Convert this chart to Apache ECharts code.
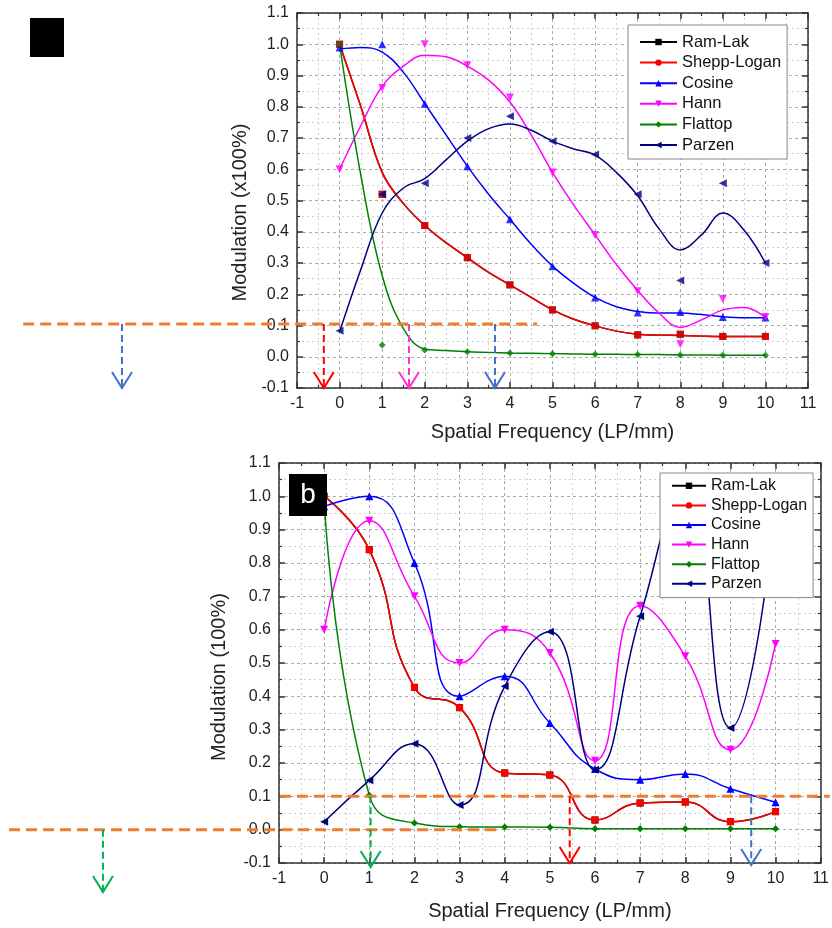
<!DOCTYPE html>
<html>
<head>
<meta charset="utf-8">
<script src="https://cdn.jsdelivr.net/npm/echarts@6/dist/echarts.min.js"></script>
<style>
html, body { margin: 0; background: #fff; }
#chart { width: 832px; height: 928px; }
</style>
</head>
<body>
<div id="chart"></div>
<script>
const names = ['Ram-Lak', 'Shepp-Logan', 'Cosine', 'Hann', 'Flattop', 'Parzen']
const colors = ['#000000', '#ff0000', '#0000ff', '#ff00ff', '#008000', '#000080']
const legendSymbols = ['rect', 'circle', 'triangle', 'triangle', 'diamond', 'triangle']
const pointSymbols = ['rect', 'rect', 'triangle', 'triangle', 'diamond', 'triangle']
const symbolRotations = [0, 0, 0, 180, 0, 90]

const freq = [0, 1, 2, 3, 4, 5, 6, 7, 8, 9, 10]
const freqFine = [0, 0.5, 1, 1.5, 2, 2.5, 3, 3.5, 4, 4.5, 5, 5.5, 6, 6.5, 7, 7.5, 8, 8.5, 9, 9.5, 10]

// panel a: measured points
const aRamLak = [1.0, 0.52, 0.42, 0.317, 0.23, 0.15, 0.099, 0.07, 0.072, 0.065, 0.065]
const aSheppLogan = [1.0, 0.52, 0.42, 0.317, 0.23, 0.15, 0.099, 0.07, 0.072, 0.065, 0.065]
const aCosine = [0.99, 1.0, 0.81, 0.61, 0.44, 0.29, 0.19, 0.142, 0.143, 0.127, 0.126]
const aHann = [0.6, 0.86, 1.0, 0.933, 0.83, 0.59, 0.39, 0.21, 0.04, 0.185, 0.127]
const aFlattop = [1.0, 0.038, 0.022, 0.016, 0.012, 0.01, 0.008, 0.007, 0.006, 0.005, 0.005]
const aParzen = [0.083, 0.52, 0.555, 0.7, 0.77, 0.69, 0.647, 0.52, 0.244, 0.555, 0.3]

// panel a: fitted curves, read every 0.5 LP/mm
const aRamLakFit = [1.0, 0.8, 0.59, 0.49, 0.42, 0.365, 0.317, 0.27, 0.23, 0.19, 0.15, 0.12, 0.099, 0.082, 0.072, 0.069, 0.068, 0.066, 0.065, 0.065, 0.065]
const aSheppLoganFit = [1.0, 0.8, 0.59, 0.49, 0.42, 0.365, 0.317, 0.27, 0.23, 0.19, 0.15, 0.12, 0.099, 0.082, 0.072, 0.069, 0.068, 0.066, 0.065, 0.065, 0.065]
const aCosineFit = [0.985, 0.99, 0.975, 0.91, 0.81, 0.71, 0.61, 0.52, 0.44, 0.36, 0.29, 0.235, 0.19, 0.16, 0.145, 0.14, 0.14, 0.135, 0.128, 0.125, 0.125]
const aHannFit = [0.6, 0.74, 0.865, 0.93, 0.965, 0.96, 0.93, 0.885, 0.815, 0.71, 0.59, 0.485, 0.39, 0.295, 0.212, 0.14, 0.094, 0.118, 0.15, 0.158, 0.126]
const aFlattopFit = [1.0, 0.58, 0.26, 0.09, 0.025, 0.02, 0.016, 0.014, 0.012, 0.011, 0.01, 0.009, 0.008, 0.008, 0.007, 0.007, 0.006, 0.006, 0.005, 0.005, 0.005]
const aParzenFit = [0.08, 0.28, 0.46, 0.54, 0.57, 0.63, 0.69, 0.73, 0.745, 0.725, 0.69, 0.665, 0.645, 0.59, 0.515, 0.41, 0.342, 0.39, 0.46, 0.405, 0.3]

// panel b: measured points (curves go through them)
const bRamLak = [1.0, 0.84, 0.427, 0.366, 0.17, 0.164, 0.029, 0.08, 0.083, 0.024, 0.054]
const bSheppLogan = [1.0, 0.84, 0.427, 0.366, 0.17, 0.164, 0.029, 0.08, 0.083, 0.024, 0.054]
const bCosine = [0.97, 1.0, 0.8, 0.4, 0.46, 0.32, 0.182, 0.15, 0.167, 0.123, 0.082]
const bHann = [0.6, 0.927, 0.7, 0.5, 0.6, 0.53, 0.207, 0.672, 0.52, 0.24, 0.557]
const bFlattop = [1.0, 0.103, 0.02, 0.009, 0.008, 0.007, 0.003, 0.003, 0.003, 0.003, 0.003]
const bParzen = [0.024, 0.148, 0.258, 0.074, 0.43, 0.594, 0.18, 0.64, 1.05, 0.305, 0.95]

const yTicks = [-0.1, 1.1, 0.1]
const xTicks = [-1, 11, 1]

// annotations: threshold levels and arrows, in LP/mm / modulation units
const aThreshold = { from: -7.43, to: 4.64, level: 0.105 }
const aArrows = [
  { f: -5.11, top: 0.105, tip: -0.1, color: '#4472c4' },
  { f: -0.37, top: 0.105, tip: -0.1, color: '#ff0000' },
  { f: 1.63, top: 0.105, tip: -0.1, color: '#ff33cc' },
  { f: 3.65, top: 0.105, tip: -0.1, color: '#4472c4' },
]
const bThresholds = [
  { from: -0.98, to: 11.2, level: 0.1 },
  { from: -6.98, to: 3.88, level: 0.0 },
]
const bArrows = [
  { f: -4.9, top: 0.0, tip: -0.187, color: '#00b050' },
  { f: 1.03, top: 0.1, tip: -0.112, color: '#00b050' },
  { f: 5.44, top: 0.1, tip: -0.1, color: '#ff0000' },
  { f: 9.46, top: 0.1, tip: -0.106, color: '#4472c4' },
]

const font = 'Liberation Sans, Arial, sans-serif'
const frame = { color: '#333', width: 1.5 }

const aPoints = [aRamLak, aSheppLogan, aCosine, aHann, aFlattop, aParzen]
const aFits = [aRamLakFit, aSheppLoganFit, aCosineFit, aHannFit, aFlattopFit, aParzenFit]
const bPoints = [bRamLak, bSheppLogan, bCosine, bHann, bFlattop, bParzen]

function mainX(gridIndex, nameGap) {
  return {
    type: 'value', gridIndex, min: xTicks[0], max: xTicks[1], interval: xTicks[2],
    name: 'Spatial Frequency (LP/mm)', nameLocation: 'middle', nameGap,
    nameTextStyle: { fontSize: 20, color: '#222', fontFamily: font },
    axisLine: { onZero: false, lineStyle: frame },
    axisTick: { inside: true, length: 6, lineStyle: frame },
    minorTick: { show: true, splitNumber: 2, length: 3, lineStyle: { color: '#333', width: 1.2 } },
    axisLabel: { fontSize: 16, color: '#222', fontFamily: font, margin: 8 },
    splitLine: { show: true, lineStyle: { color: '#aaa', type: [3, 3], width: 1 } },
    minorSplitLine: { show: true, lineStyle: { color: '#d0d0d0', type: [2, 3], width: 1 } },
  }
}

function mainY(gridIndex, name, nameGap, shift) {
  return {
    type: 'value', gridIndex, min: yTicks[0], max: yTicks[1], interval: yTicks[2],
    name, nameLocation: 'middle', nameGap,
    nameTextStyle: { fontSize: 20, color: '#222', fontFamily: font, padding: [0, shift, 0, 0] },
    axisLine: { onZero: false, lineStyle: frame },
    axisTick: { inside: true, length: 6, lineStyle: frame },
    minorTick: { show: true, splitNumber: 2, length: 3, lineStyle: { color: '#333', width: 1.2 } },
    axisLabel: { fontSize: 16, color: '#222', fontFamily: font, margin: 8, formatter: (v) => v.toFixed(1) },
    splitLine: { show: true, lineStyle: { color: '#aaa', type: [3, 3], width: 1 } },
    minorSplitLine: { show: true, lineStyle: { color: '#d0d0d0', type: [2, 3], width: 1 } },
  }
}

function mirror(base, gridIndex, position) {
  return {
    type: 'value', gridIndex, position, min: base[0], max: base[1], interval: base[2],
    axisLine: { onZero: false, lineStyle: frame },
    axisTick: { inside: true, length: 6, lineStyle: frame },
    minorTick: { show: true, splitNumber: 2, length: 3, lineStyle: { color: '#333', width: 1.2 } },
    axisLabel: { show: false },
    splitLine: { show: false },
  }
}

function legendFor(left, top, gap, fontSize, lineHeight, itemWidth, padding) {
  return {
    data: names, orient: 'vertical', left, top, itemGap: gap, itemWidth, itemHeight: 8,
    padding, backgroundColor: '#fff', borderColor: '#888', borderWidth: 1, borderRadius: 0,
    textStyle: { fontSize, lineHeight, color: '#111', fontFamily: font },
    selectedMode: false,
  }
}

const series = []
names.forEach((name, i) => {
  series.push({
    name, type: 'line', xAxisIndex: 0, yAxisIndex: 0, smooth: 0.4,
    data: freqFine.map((f, k) => [f, aFits[i][k]]),
    showSymbol: false, symbol: legendSymbols[i], symbolRotate: symbolRotations[i],
    lineStyle: { color: colors[i], width: 1.5 }, itemStyle: { color: colors[i] },
    z: 2 + i * 0.1,
  })
})
names.forEach((name, i) => {
  series.push({
    name: name + ' (a) points', type: 'scatter', xAxisIndex: 0, yAxisIndex: 0,
    data: freq.map((f, k) => [f, aPoints[i][k]]),
    symbol: pointSymbols[i], symbolRotate: symbolRotations[i],
    symbolSize: pointSymbols[i] === 'triangle' ? 8 : 7,
    itemStyle: { color: colors[i] }, z: 3 + i * 0.1,
  })
})
names.forEach((name, i) => {
  series.push({
    name, type: 'line', xAxisIndex: 1, yAxisIndex: 1, smooth: 0.5,
    data: freq.map((f, k) => [f, bPoints[i][k]]),
    showSymbol: true, symbol: pointSymbols[i], symbolRotate: symbolRotations[i],
    symbolSize: pointSymbols[i] === 'triangle' ? 8 : 7,
    lineStyle: { color: colors[i], width: 1.5 }, itemStyle: { color: colors[i] },
    z: 2 + i * 0.1,
  })
})

const chart = echarts.init(document.getElementById('chart'))
chart.setOption({
  backgroundColor: '#fff',
  animation: false,
  grid: [
    { left: 297, top: 13, width: 511, height: 375 },
    { left: 279, top: 463, width: 544, height: 400 },
  ],
  xAxis: [mainX(0, 34), mainX(1, 38), mirror(xTicks, 0, 'top'), mirror(xTicks, 1, 'top')],
  yAxis: [
    mainY(0, 'Modulation (x100%)', 46, 24),
    mainY(1, 'Modulation (100%)', 50, 28),
    mirror(yTicks, 0, 'right'),
    mirror(yTicks, 1, 'right'),
  ],
  legend: [
    legendFor(628, 25, 0.6, 16.5, 20, 37, [7, 6, 4, 11]),
    legendFor(660, 473, 0, 16, 19.6, 34, [3, 6, 4, 11]),
  ],
  series,
})

// annotations drawn on top, positioned through the axes
function px(grid, f, v) {
  return chart.convertToPixel({ xAxisIndex: grid, yAxisIndex: grid }, [f, v])
}
function hLine(grid, t) {
  const a = px(grid, t.from, t.level)
  const b = px(grid, t.to, t.level)
  return { type: 'line', z: 100, shape: { x1: a[0], y1: a[1], x2: b[0], y2: b[1] },
    style: { stroke: '#ed7d31', lineWidth: 3, lineDash: [11, 6] } }
}
function arrow(grid, a) {
  const p = px(grid, a.f, a.top)
  const q = px(grid, a.f, a.tip)
  return [
    { type: 'line', z: 100, shape: { x1: p[0], y1: p[1], x2: q[0], y2: q[1] - 2 },
      style: { stroke: a.color, lineWidth: 2, lineDash: [7, 4] } },
    { type: 'polyline', z: 100, shape: { points: [[q[0] - 10, q[1] - 16], [q[0], q[1]], [q[0] + 10, q[1] - 16]] },
      style: { stroke: a.color, lineWidth: 2, fill: null } },
  ]
}

const elements = [
  { type: 'rect', z: 100, shape: { x: 30, y: 18, width: 34, height: 39 }, style: { fill: '#000' } },
  { type: 'rect', z: 100, shape: { x: 289, y: 474, width: 38, height: 42 }, style: { fill: '#000' } },
  { type: 'text', z: 101, style: { x: 308, y: 495, text: 'b', fill: '#fff', font: '28px ' + font, align: 'center', verticalAlign: 'middle' } },
  hLine(0, aThreshold),
  ...bThresholds.map((t) => hLine(1, t)),
  ...aArrows.flatMap((a) => arrow(0, a)),
  ...bArrows.flatMap((a) => arrow(1, a)),
]
chart.setOption({ graphic: { elements } })
</script>
</body>
</html>
